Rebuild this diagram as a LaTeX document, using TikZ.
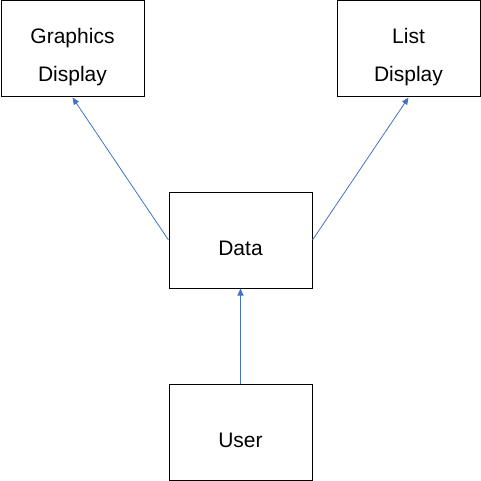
\documentclass[tikz,border=0pt]{standalone}
\usepackage{fontspec}
\setmainfont{Liberation Sans}
\usetikzlibrary{arrows.meta,positioning}
\definecolor{linkblue}{RGB}{68,114,196}
\tikzset{
BOX/.style ={draw=black,line width=1pt,minimum width=143pt,minimum height=96pt,align=center,font=\fontsize{21}{38}\selectfont,text depth=0pt},
ONELINE/.style ={BOX,text height=30pt},
TWOLINE/.style ={BOX,text height=66pt},
LINK/.style ={draw=linkblue,line width=0.8pt,-{Triangle[length=7pt,width=6pt]}},
}
\begin{document}
\begin{tikzpicture}[x=1pt,y=-1pt]
	\useasboundingbox (0,0) rectangle (481,481);
	\node[TWOLINE] (graphics) at (72.5,49) {Graphics\\Display};
	\node[TWOLINE] (list) at (408.5,49) {List\\Display};
	\node[ONELINE] (data) at (240.5,240) {Data};
	\node[ONELINE] (user) at (240.5,432) {User};
	\path[LINK] (data.west) -- (graphics.south);
	\path[LINK] (data.east) -- (list.south);
	\path[LINK] (user.north) -- (data.south);
\end{tikzpicture}
\end{document}
